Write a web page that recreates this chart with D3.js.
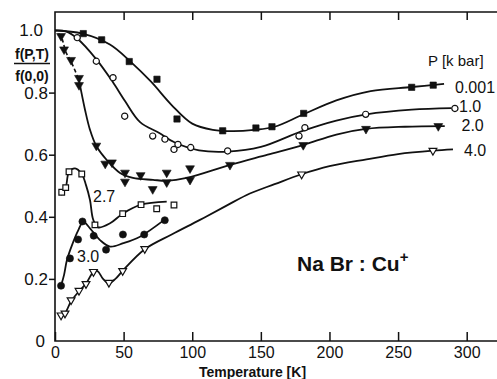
<!DOCTYPE html>
<html>
<head>
    <meta charset="UTF-8">
    <script src="https://d3js.org/d3.v7.min.js"></script>
    <style>
     body { margin: 0; background: #fff; }
     text { font-family: "Liberation Sans", Arial, sans-serif; fill: #111; }
    </style>
</head>
<body>
    <div id="chart"></div>
    <script>
     // measured points (T in K, f(P,T)/f(0,0))
     const pts001 = [[20.6,0.99],[34,0.97],[54.1,0.9],[74.3,0.843],[88.9,0.715],[122.2,0.677],[146.4,0.686],[158.1,0.69],[181.2,0.733],[259.9,0.817],[275.6,0.824]];
     const pts10 = [[16.2,0.977],[30.1,0.901],[42.3,0.848],[50.8,0.724],[71.2,0.66],[80.1,0.65],[86.7,0.617],[89.6,0.633],[98.9,0.623],[125.8,0.612],[177.8,0.66],[182.1,0.687],[226.4,0.73],[291.4,0.749]];
     const pts20 = [[4.4,0.982],[6.6,0.939],[11.7,0.905],[17.5,0.847],[17.5,0.824],[30.1,0.629],[36.6,0.571],[41.5,0.575],[51,0.542],[51,0.513],[62.4,0.534],[71.2,0.489],[81.4,0.542],[81.4,0.511],[98.4,0.556],[98.4,0.519],[127.5,0.567],[180.9,0.631],[226.6,0.683],[279.3,0.692]];
     const pts27 = [[4.9,0.479],[7.8,0.494],[10.2,0.545],[19.5,0.538],[29.1,0.374],[49.3,0.41],[62.7,0.439],[74.1,0.426],[86.7,0.438]];
     const pts30 = [[4.4,0.178],[10.9,0.266],[16.8,0.327],[20,0.385],[28.2,0.339],[37.2,0.294],[49.5,0.343],[65,0.343],[80,0.389]];
     const pts40 = [[4.4,0.083],[7.3,0.089],[11.7,0.132],[17.5,0.162],[22.6,0.184],[28,0.223],[39.3,0.188],[49.3,0.226],[65.4,0.297],[179.7,0.537],[275.4,0.613]];

     // hand drawn guide curves
     const fit001 = [[0,1.0],[20,0.99],[40,0.955],[55,0.9],[70,0.835],[85,0.76],[100,0.70],[115,0.68],[130,0.676],[145,0.68],[160,0.69],[180,0.728],[205,0.775],[230,0.805],[260,0.818],[283.5,0.828]];
     const fit10 = [[0,1.0],[8,0.997],[16,0.975],[30,0.908],[42,0.835],[51,0.773],[62,0.705],[76,0.67],[87,0.64],[105,0.614],[126,0.61],[150,0.625],[180,0.676],[205,0.71],[227,0.73],[260,0.745],[289,0.75]];
     const fit20dash = [[2.5,0.99],[4.4,0.982],[8,0.93],[11.7,0.9],[17.5,0.84]];
     const fit20 = [[17.5,0.84],[21.9,0.744],[25.5,0.68],[30.1,0.628],[37.7,0.583],[47.4,0.541],[56.8,0.525],[71.4,0.519],[81.4,0.516],[96,0.525],[127.5,0.567],[155,0.6],[180.7,0.631],[205,0.665],[226.6,0.683],[255,0.69],[284,0.692]];
     const fit27 = [[4.4,0.47],[7.8,0.494],[10.2,0.544],[14.6,0.556],[19.5,0.538],[22.6,0.502],[25.5,0.454],[27.9,0.39],[31.5,0.366],[40.1,0.379],[49.3,0.41],[62.7,0.439],[81.4,0.449]];
     const fit30 = [[4.4,0.178],[6.6,0.213],[8.7,0.261],[12.4,0.309],[17,0.357],[20.6,0.384],[25.5,0.363],[32.8,0.325],[40.1,0.304],[49.8,0.315],[61.9,0.336],[79.6,0.39]];
     const fit40 = [[3.6,0.075],[7.3,0.089],[11.7,0.128],[17.5,0.16],[22.6,0.185],[28,0.222],[31,0.225],[35,0.2],[39.3,0.186],[44,0.2],[49.3,0.226],[65.6,0.296],[85,0.343],[105.6,0.39],[125,0.436],[142,0.475],[160,0.505],[179.7,0.537],[200,0.563],[227,0.585],[250,0.602],[275.4,0.613],[290,0.617]];

     const xTicks = [0, 50, 100, 150, 200, 250, 300];
     const yTicks = [0, 0.2, 0.4, 0.6, 0.8, 1.0];
     const pressures = ["0.001", "1.0", "2.0", "4.0"];

     const width = 497, height = 379;
     const svg = d3.select("#chart").append("svg")
                   .attr("width", width)
                   .attr("height", height);

     const x = d3.scaleLinear().domain([0, 300]).range([55, 466.7]);
     const y = d3.scaleLinear().domain([0, 1]).range([341, 30.5]);

     // frame: left axis, top line, bottom line (no right side)
     svg.append("path")
        .attr("d", "M497,12H55V341H497")
        .attr("fill", "none")
        .attr("stroke", "#111")
        .attr("stroke-width", 1.6);

     let xAxis = svg.append("g")
         .attr("transform", "translate(0,341)")
         .call(d3.axisBottom(x).tickValues(xTicks).tickSizeInner(-9).tickSizeOuter(0).tickPadding(6));
     xAxis.select(".domain").remove();
     xAxis.selectAll("text").style("font-size", "16px").attr("fill", "#111");
     xAxis.selectAll("line").attr("stroke", "#111").attr("stroke-width", 1.5);

     let topAxis = svg.append("g")
         .attr("transform", "translate(0,12)")
         .call(d3.axisTop(x).tickValues(xTicks.slice(1)).tickSizeInner(-8).tickSizeOuter(0).tickFormat(""));
     topAxis.select(".domain").remove();
     topAxis.selectAll("line").attr("stroke", "#111").attr("stroke-width", 1.5);

     let yAxis = svg.append("g")
         .attr("transform", "translate(55,0)")
         .call(d3.axisLeft(y).tickValues(yTicks).tickSize(6).tickPadding(1)
                 .tickFormat(d => d == 0 ? "0" : d3.format(".1f")(d)));
     yAxis.select(".domain").remove();
     yAxis.selectAll("text").style("font-size", "17px").attr("fill", "#111");
     yAxis.selectAll("line").attr("stroke", "#111").attr("stroke-width", 1.5);
     yAxis.selectAll(".tick").filter(d => d == 0 || d == 1).select("line").remove();
     yAxis.selectAll(".tick").filter(d => d == 0).select("text").attr("x", -10);
     yAxis.selectAll(".tick").filter(d => d == 1).select("text").attr("x", -12);

     // curves
     const line = d3.line()
         .x(d => x(d[0]))
         .y(d => y(d[1]))
         .curve(d3.curveCatmullRom.alpha(0.5));

     const curves = [fit001, fit10, fit20, fit27, fit30, fit40];
     svg.append("g").selectAll("path")
        .data(curves)
        .enter()
        .append("path")
        .attr("d", line)
        .attr("fill", "none")
        .attr("stroke", "#111")
        .attr("stroke-width", 1.8);
     svg.append("path")
        .attr("d", line(fit20dash))
        .attr("fill", "none")
        .attr("stroke", "#111")
        .attr("stroke-width", 1.6)
        .attr("stroke-dasharray", "4,2.5");

     // markers
     function drawPts(data, type, size, filled, rot) {
         svg.append("g").selectAll("path")
            .data(data)
            .enter()
            .append("path")
            .attr("d", d3.symbol().type(type).size(size))
            .attr("transform", d => `translate(${x(d[0])},${y(d[1])}) rotate(${rot})`)
            .attr("fill", filled ? "#111" : "#fff")
            .attr("stroke", "#111")
            .attr("stroke-width", filled ? 0.6 : 1.2);
     }
     drawPts(pts001, d3.symbolSquare, 40, true, 0);
     drawPts(pts10, d3.symbolCircle, 30, false, 0);
     drawPts(pts20, d3.symbolTriangle, 34, true, 180);
     drawPts(pts27, d3.symbolSquare, 32, false, 0);
     drawPts(pts30, d3.symbolCircle, 40, true, 0);
     drawPts(pts40, d3.symbolTriangle, 26, false, 180);

     // y label as a fraction
     svg.append("text").attr("x", 32).attr("y", 59)
        .attr("text-anchor", "middle")
        .style("font-size", "14px").style("font-weight", "bold")
        .text("f(P,T)");
     svg.append("line")
        .attr("x1", 14).attr("x2", 50).attr("y1", 63.5).attr("y2", 63.5)
        .attr("stroke", "#111").attr("stroke-width", 1.6);
     svg.append("text").attr("x", 32).attr("y", 81)
        .attr("text-anchor", "middle")
        .style("font-size", "14px").style("font-weight", "bold")
        .text("f(0,0)");

     svg.append("text").attr("x", 252.5).attr("y", 377)
        .attr("text-anchor", "middle")
        .style("font-size", "14px").style("font-weight", "bold")
        .text("Temperature [K]");

     // legend
     svg.append("text").attr("x", 428).attr("y", 66)
        .style("font-size", "15px")
        .text("P [k bar]");
     const legendPos = [[455, 93], [459, 111.5], [461.5, 131], [464, 156]];
     svg.append("g").selectAll("text")
        .data(pressures)
        .enter()
        .append("text")
        .attr("x", (d, i) => legendPos[i][0])
        .attr("y", (d, i) => legendPos[i][1])
        .style("font-size", "16px")
        .text(d => d);

     svg.append("text").attr("x", 93).attr("y", 202)
        .style("font-size", "16px").text("2.7");
     svg.append("text").attr("x", 77).attr("y", 261.5)
        .style("font-size", "16px").text("3.0");

     let title = svg.append("text").attr("x", 297).attr("y", 271)
        .style("font-size", "21px").style("font-weight", "bold");
     title.append("tspan").text("Na Br : Cu");
     title.append("tspan").attr("dy", -9).style("font-size", "15px").text("+");
    </script>
</body>
</html>
